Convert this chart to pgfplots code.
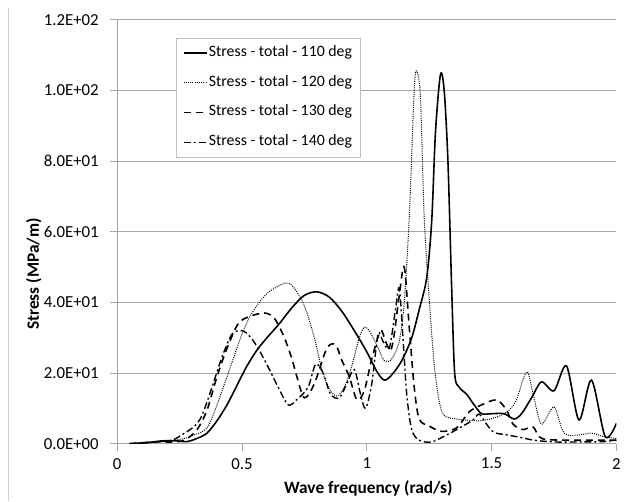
\documentclass[border=0pt]{standalone}
\usepackage{pgfplots}
\pgfplotsset{compat=1.18}
\usepackage{fontspec}
\setmainfont{Carlito}
\definecolor{gridgray}{HTML}{A6A6A6}
\definecolor{leggray}{HTML}{BFBFBF}
\begin{document}
\begin{tikzpicture}
\begin{axis}[
  at={(0,0)}, anchor=south west,
  scale only axis, width=503bp, height=427bp,
  xmin=0, xmax=2, ymin=0, ymax=120,
  axis x line*=bottom, axis y line*=left,
  axis line style={gridgray, line width=0.8bp, -},
  xtick={0,0.5,1,1.5,2},
  xticklabels={0,0.5,1,1.5,2},
  ytick={0,20,40,60,80,100,120},
  yticklabels={0.0E+00,2.0E+01,4.0E+01,6.0E+01,8.0E+01,1.0E+02,1.2E+02},
  tick align=outside, major tick length=7bp,
  tick style={gridgray, line width=0.8bp},
  ymajorgrids, grid style={gridgray, line width=0.8bp},
  tick label style={font=\fontsize{17}{20}\selectfont},
  yticklabel style={xshift=-8bp},
  xticklabel style={yshift=-4bp},
  xlabel={\textbf{Wave frequency (rad/s)}},
  ylabel={\textbf{Stress (MPa/m)}},
  label style={font=\fontsize{17.5}{20}\selectfont},
  xlabel style={at={(axis description cs:0.503,-0.105)}, anchor=center},
  ylabel style={at={(axis description cs:-0.167,0.40)}, anchor=center},
  legend cell align=left,
  legend style={at={(axis description cs:0.117,0.958)}, anchor=north west,
    draw=leggray, line width=0.8bp, font=\fontsize{16}{18}\selectfont,
    inner xsep=7bp, inner ysep=6bp, row sep=12bp,
    nodes={inner sep=1.5bp, text height=11bp, text depth=4bp}},
  legend image code/.code={\draw[#1] (0bp,0bp) -- (23bp,0bp);},
]
\addplot[black, line width=1.6bp, smooth, tension=0.5] table {
0.05 0
0.12 0.3
0.18 0.8
0.24 0.8
0.28 0.6
0.32 1.5
0.36 3
0.40 6.5
0.44 11
0.48 16.5
0.52 22
0.56 26.5
0.60 30
0.65 34
0.70 38.5
0.75 42
0.80 43
0.85 41.5
0.90 37.5
0.95 32
1.00 26
1.04 20.5
1.07 18
1.10 19.5
1.14 23.5
1.18 30
1.21 38
1.24 47
1.26 63
1.275 88
1.295 104.5
1.31 100
1.325 80
1.34 44
1.352 20
1.37 16
1.40 14
1.43 11
1.46 8.5
1.50 8.5
1.55 8.5
1.59 7
1.62 8.5
1.66 13
1.70 17.5
1.75 15
1.80 22
1.85 6.7
1.90 18
1.955 2
2.0 5.8
};
\addlegendentry{Stress - total - 110 deg}
\addplot[black, line width=1bp, dash pattern=on 1bp off 1.2bp, smooth, tension=0.5] table {
0.05 0
0.12 0.3
0.18 0.6
0.23 1
0.27 1.5
0.31 2.5
0.36 4.5
0.40 11
0.46 23
0.50 31
0.54 37
0.60 42.5
0.675 45.5
0.71 44
0.75 39
0.79 30
0.82 21
0.85 15.5
0.88 13.5
0.91 16
0.94 22
0.97 30
0.99 33
1.01 32
1.04 28
1.07 23.5
1.10 24
1.13 29
1.15 40
1.17 64
1.19 100
1.20 105.5
1.215 98
1.23 64
1.25 41
1.27 22.5
1.29 12
1.31 8
1.36 7
1.45 6.5
1.52 7.5
1.57 9.5
1.60 12.5
1.625 18
1.645 20.2
1.67 13
1.70 5.5
1.75 10.4
1.79 3
1.85 2.5
1.90 3
1.95 2
2.0 1.5
};
\addlegendentry{Stress - total - 120 deg}
\addplot[black, line width=1.6bp, dash pattern=on 7bp off 5bp, smooth, tension=0.5] table {
0.05 0
0.15 0.5
0.22 0.5
0.27 1
0.32 4
0.36 9.5
0.40 19
0.44 27
0.485 34
0.53 36
0.59 37
0.63 35.5
0.67 30
0.70 24
0.72 19
0.75 13
0.79 17
0.84 27
0.875 28
0.90 23.6
0.93 19
0.96 12.5
0.99 15
1.02 24
1.055 32
1.075 29
1.095 26.4
1.11 31
1.13 42
1.15 50
1.17 33
1.19 16
1.21 7
1.25 5
1.30 3.5
1.36 4.5
1.41 9
1.46 11
1.52 12.4
1.56 9.5
1.585 5.6
1.625 4
1.665 4.8
1.69 2
1.72 1.2
1.80 1
1.90 1
2.0 1
};
\addlegendentry{Stress - total - 130 deg}
\addplot[black, line width=1.4bp, dash pattern=on 7bp off 3bp on 2bp off 3bp, smooth, tension=0.5] table {
0.05 0
0.15 0.5
0.22 1
0.27 3
0.31 5
0.34 8
0.38 16
0.42 24.5
0.46 31
0.50 32
0.53 30.5
0.565 27
0.61 21
0.645 16
0.685 11
0.72 12.5
0.765 16
0.795 22.5
0.825 20
0.855 14
0.89 13
0.92 17
0.95 21
0.975 14
0.995 10
1.02 17
1.045 31
1.065 29
1.09 27
1.115 38
1.13 44
1.145 30
1.16 14
1.18 4
1.21 1
1.26 0.5
1.32 2.5
1.36 4
1.425 6.7
1.45 8.4
1.48 5.5
1.51 3.2
1.56 2.5
1.60 2
1.67 1
1.75 0.5
1.85 0.5
1.95 0.6
2.0 1
};
\addlegendentry{Stress - total - 140 deg}
\end{axis}
\draw[gray!35, line width=0.8bp] (-110bp,439bp) -- (-110bp,-58bp);
\useasboundingbox (-118bp,-58bp) rectangle (506bp,447bp);
\end{tikzpicture}
\end{document}
